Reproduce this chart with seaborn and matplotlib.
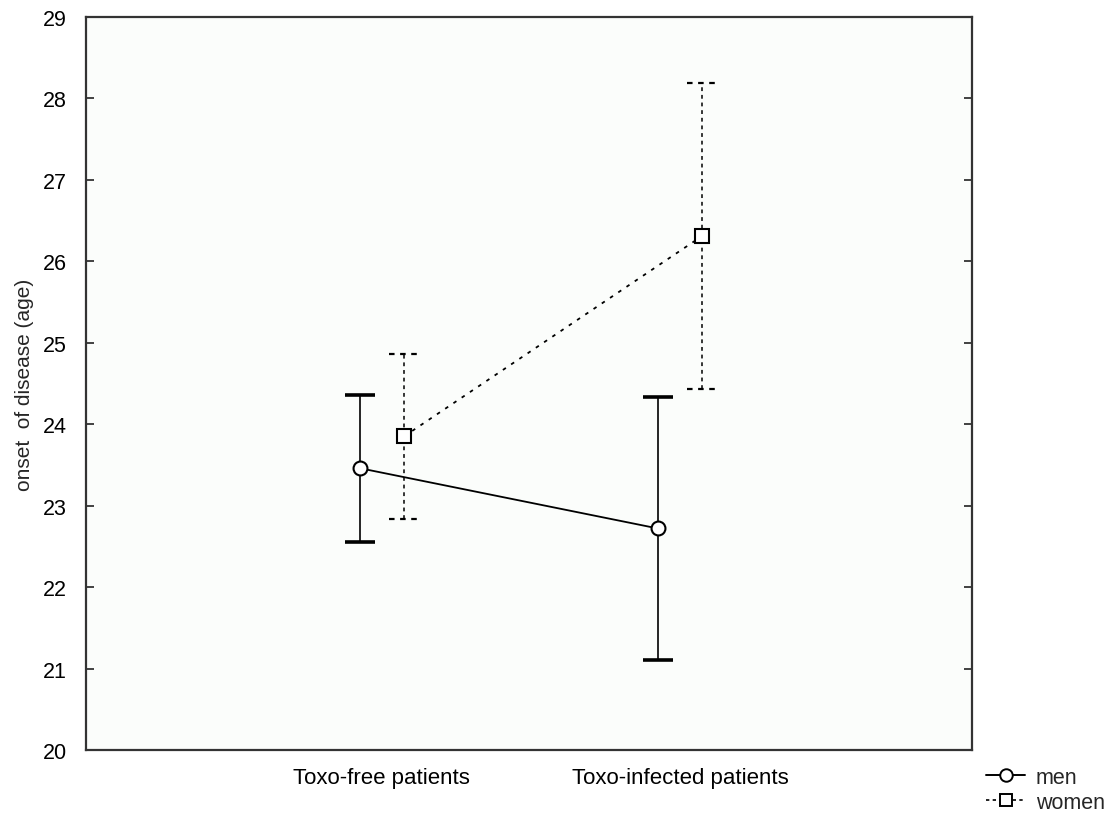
import numpy as np
import pandas as pd
import matplotlib
matplotlib.use("Agg")
import matplotlib.pyplot as plt
from matplotlib.lines import Line2D
import seaborn as sns

# ============================
# DATA
# ============================
groups = ["Toxo-free patients", "Toxo-infected patients"]
sexes = ["men", "women"]
men_mean = [23.46, 22.72]
men_err = [0.90, 1.62]
women_mean = [23.85, 26.31]
women_err = [1.01, 1.88]

df = pd.DataFrame({
    "group": groups * 2,
    "sex": [sexes[0]] * 2 + [sexes[1]] * 2,
    "onset": men_mean + women_mean,
})
errs = {"men": men_err, "women": women_err}
means = {"men": men_mean, "women": women_mean}

# ============================
# STYLE
# ============================
sns.set_style("white")
plt.rcParams["font.family"] = ["Liberation Sans", "DejaVu Sans"]

fig = plt.figure(figsize=(11.2, 8.29), dpi=100)
ax = fig.add_axes([86 / 1120, 78 / 829, 886 / 1120, 733 / 829])
ax.set_facecolor("#fbfdfb")

sns.pointplot(data=df, x="group", y="onset", hue="sex", order=groups,
              hue_order=sexes, dodge=0.148, errorbar=None,
              markers=["o", "s"], linestyles=["-", ":"],
              palette=["black", "black"], linewidth=1.3,
              markersize=10, markeredgewidth=1.5, legend=False, ax=ax)

styles = {"men": dict(ls="-", lw=1.2, cap_lw=2.6),
          "women": dict(ls=(0, (2.5, 2.5)), lw=1.1, cap_lw=1.6)}

data_lines = [l for l in ax.lines if len(l.get_xdata()) == 2]
for line, sex in zip(data_lines, sexes):
    line.set_markerfacecolor("white")
    line.set_zorder(5)
    if sex == "women":
        line.set_dashes((2, 3.5))
    xs = np.asarray(line.get_xdata(), dtype=float)
    m = np.array(means[sex])
    e = np.array(errs[sex])
    st = styles[sex]
    ax.vlines(xs, m - e, m + e, colors="black", linestyles=st["ls"],
              linewidth=st["lw"], zorder=3)
    for edge in (m - e, m + e):
        ax.hlines(edge, xs - 0.05, xs + 0.05, colors="black",
                  linestyles=st["ls"], linewidth=st["cap_lw"], zorder=3)

ax.set_xlim(-0.993, 1.98)
ax.set_ylim(20, 29)
ax.set_yticks(range(20, 30))
ax.set_xlabel("")
ax.set_ylabel("onset  of disease (age)", fontsize=15, labelpad=6)
ax.tick_params(axis="y", direction="in", length=6, width=1.2, labelsize=15.5,
               right=True, left=True, pad=14, colors="#222222", labelcolor="black")
ax.tick_params(axis="x", direction="in", length=6, width=1.2, labelsize=16,
               pad=12, colors="#222222", labelcolor="black")
for sp in ax.spines.values():
    sp.set_visible(True)
    sp.set_color("#333333")
    sp.set_linewidth(1.6)

handles = [
    Line2D([], [], color="black", ls="-", lw=1.4, marker="o", markersize=9,
           markerfacecolor="white", markeredgewidth=1.4),
    Line2D([], [], color="black", ls=(0, (2, 2)), lw=1.2, marker="s", markersize=8,
           markerfacecolor="white", markeredgewidth=1.4),
]
fig.legend(handles, sexes, loc="lower right", bbox_to_anchor=(1.0, 0.0),
           frameon=False, fontsize=15.5, handlelength=1.8, handletextpad=0.5,
           labelspacing=0.2, borderaxespad=0.3)

fig.savefig("out.png", dpi=100, facecolor="white")
